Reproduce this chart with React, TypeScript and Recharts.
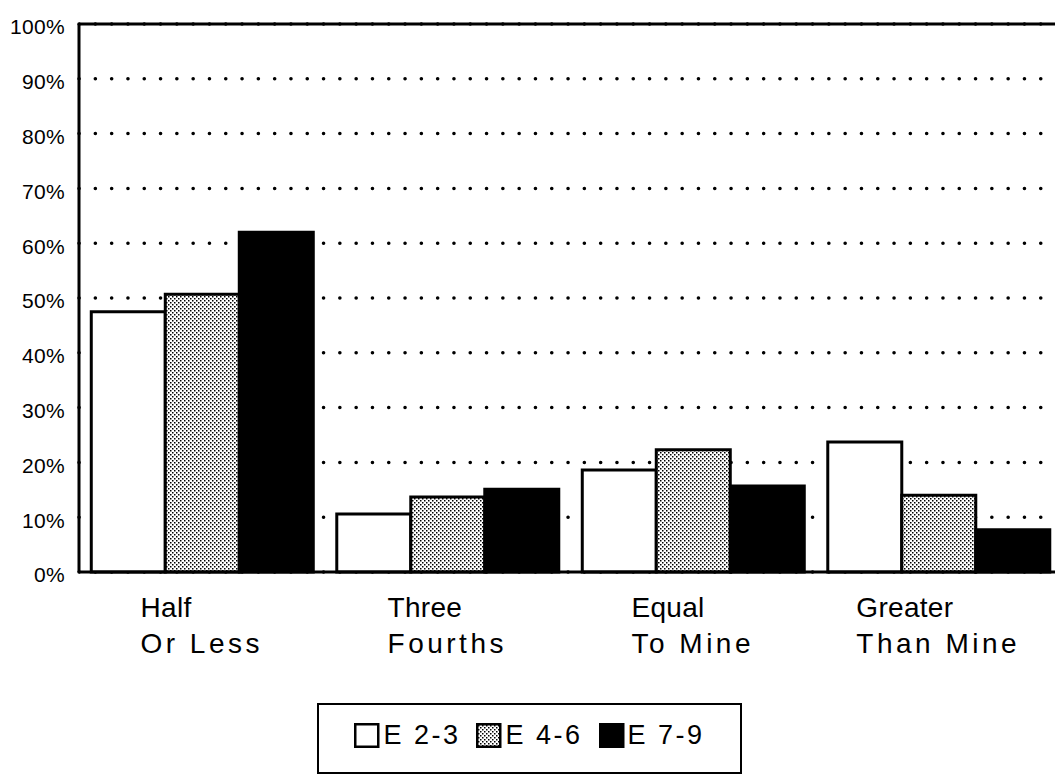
import React from "react";
import { BarChart, Bar, XAxis, YAxis, CartesianGrid, ReferenceLine } from "recharts";

const categories = ["Half|Or Less", "Three|Fourths", "Equal|To Mine", "Greater|Than Mine"];
const e23 = [47.5, 10.6, 18.6, 23.7];
const e46 = [50.7, 13.7, 22.3, 14.0];
const e79 = [62.0, 15.1, 15.7, 7.7];
const yTicks = [0, 10, 20, 30, 40, 50, 60, 70, 80, 90, 100];

const series = [
  { key: "e23", name: "E 2-3", fill: "#ffffff" },
  { key: "e46", name: "E 4-6", fill: "url(#stipple)" },
  { key: "e79", name: "E 7-9", fill: "#000000" },
];

const data = categories.map((c, i) => ({ cat: c, e23: e23[i], e46: e46[i], e79: e79[i] }));

const FONT = "'Liberation Sans', Arial, Helvetica, sans-serif";

let ctx: CanvasRenderingContext2D | null = null;
const measure = (s: string, size: number, spacing: number) => {
  if (!ctx) ctx = document.createElement("canvas").getContext("2d");
  if (!ctx) return s.length * size * 0.55;
  ctx.font = `${size}px ${FONT}`;
  return ctx.measureText(s).width + spacing * s.length;
};

const CatTick = (props: any) => {
  const { x, y, payload } = props;
  const [l1, l2] = String(payload.value).split("|");
  const w = Math.max(measure(l1, 28, 0.3), measure(l2, 28, 3.5));
  const left = x - w / 2;
  return (
    <g>
      <text x={left} y={y + 37} fontSize={28} fontFamily={FONT} letterSpacing={0.3} fill="#000">
        {l1}
      </text>
      <text x={left} y={y + 73} fontSize={28} fontFamily={FONT} letterSpacing={3.5} fill="#000">
        {l2}
      </text>
    </g>
  );
};

function Legend() {
  return (
    <div
      style={{
        position: "absolute",
        left: 317,
        top: 703,
        width: 425,
        height: 71,
        boxSizing: "border-box",
        border: "2.5px solid #000",
        display: "flex",
        justifyContent: "center",
        paddingTop: 16,
        gap: 16,
        fontFamily: FONT,
        fontSize: 27,
        letterSpacing: 2.5,
      }}
    >
      {series.map((s) => (
        <div key={s.key} style={{ display: "flex", alignItems: "center", height: 28 }}>
          <svg width={26} height={25} style={{ marginRight: 3 }}>
            <defs>
              <pattern id={`lp-${s.key}`} width="4" height="4" patternUnits="userSpaceOnUse">
                <rect width="4" height="4" fill="#fff" />
                <rect x="0" y="0" width="1.5" height="1.5" fill="#000" />
                <rect x="2" y="2" width="1.5" height="1.5" fill="#000" />
              </pattern>
            </defs>
            <rect
              x={1.25}
              y={1.25}
              width={23}
              height={22.5}
              fill={s.key === "e46" ? `url(#lp-${s.key})` : s.fill}
              stroke="#000"
              strokeWidth={2.5}
            />
          </svg>
          <span>{s.name}</span>
        </div>
      ))}
    </div>
  );
}

export default function App() {
  return (
    <div
      style={{
        position: "absolute",
        left: 0,
        top: 0,
        width: 1055,
        height: 784,
        overflow: "hidden",
        background: "#fff",
      }}
    >
      <BarChart
        width={1068}
        height={784}
        data={data}
        margin={{ top: 24, right: 7, left: 0, bottom: 132 }}
        barCategoryGap="5%"
        barGap={0}
      >
        <defs>
          <pattern id="stipple" width="4" height="4" patternUnits="userSpaceOnUse">
            <rect width="4" height="4" fill="#fff" />
            <rect x="0" y="0" width="1.5" height="1.5" fill="#000" />
            <rect x="2" y="2" width="1.5" height="1.5" fill="#000" />
          </pattern>
        </defs>
        <CartesianGrid
          vertical={false}
          stroke="#000"
          strokeWidth={3.5}
          strokeDasharray="0.1 16.2"
          strokeLinecap="round"
        />
        <XAxis
          dataKey="cat"
          height={80}
          tickLine={false}
          axisLine={{ stroke: "#000", strokeWidth: 3 }}
          tick={<CatTick />}
          interval={0}
        />
        <YAxis
          width={79}
          domain={[0, 100]}
          ticks={yTicks}
          tickFormatter={(v) => `${v}%`}
          tickLine={false}
          tickSize={0}
          tickMargin={14}
          axisLine={{ stroke: "#000", strokeWidth: 3 }}
          tick={{ fontSize: 21, fontFamily: FONT, fill: "#000", dy: 3, letterSpacing: 0.3 }}
        />
        <ReferenceLine y={100} stroke="#000" strokeWidth={3} />
        {series.map((s) => (
          <Bar
            key={s.key}
            dataKey={s.key}
            name={s.name}
            fill={s.fill}
            stroke="#000"
            strokeWidth={3}
            isAnimationActive={false}
          />
        ))}
      </BarChart>
      <Legend />
    </div>
  );
}
